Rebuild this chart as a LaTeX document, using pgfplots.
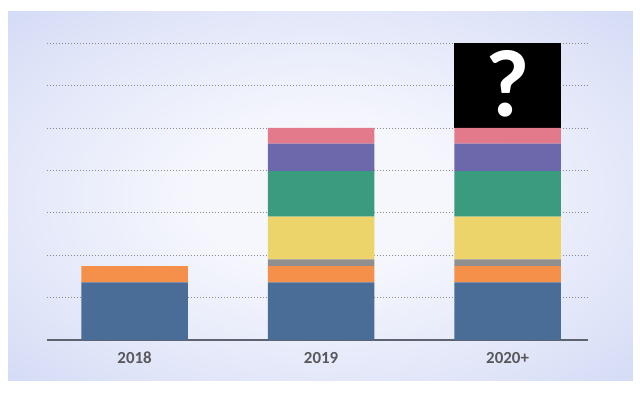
\documentclass[border=0pt]{standalone}
\usepackage{fontspec}
\setmainfont{Carlito}
\usepackage{pgfplots}
\pgfplotsset{compat=1.18}
\definecolor{cblue}{HTML}{4A6D98}
\definecolor{corange}{HTML}{F4904A}
\definecolor{cgray}{HTML}{918F8E}
\definecolor{cyellow}{HTML}{EDD46A}
\definecolor{cgreen}{HTML}{3B9B7F}
\definecolor{cpurple}{HTML}{6D67AB}
\definecolor{cpink}{HTML}{E27A8C}
\definecolor{bgin}{HTML}{F6F7FD}
\definecolor{bgmid}{HTML}{DFE4F8}
\definecolor{bgedge}{HTML}{BFCAF0}
\definecolor{bgout}{HTML}{AEBBEA}
\definecolor{labelgray}{HTML}{58585C}
\definecolor{basecol}{HTML}{5E6370}
\pgfdeclareradialshading{bgshade}{\pgfpoint{0bp}{0bp}}{color(0bp)=(bgin); color(10bp)=(bgin); color(28bp)=(bgmid); color(50bp)=(bgedge); color(71bp)=(bgout)}
\pgfdeclarelayer{bglayer}
\pgfsetlayers{bglayer,main}
\begin{document}
\begin{tikzpicture}
\begin{axis}[
  x=186.5bp, y=42.4bp,
  xmin=-0.47, xmax=2.43, ymin=0, ymax=7,
  clip=false,
  axis line style={draw=none},
  tick style={draw=none},
  major tick length=0pt,
  ybar stacked,
  bar width=0.57,
  ytick={1,2,3,4,5,6,7},
  yticklabels={},
  ymajorgrids=true,
  major grid style={draw=black!45, line width=0.9bp, dash pattern=on 1bp off 2bp},
  xtick={0,1,2},
  xticklabels={2018,2019,2020+},
  xticklabel style={anchor=center, yshift=-18bp, font=\fontsize{17}{17}\selectfont\bfseries, text=labelgray},
]
\coordinate (pA) at (axis cs:-0.722,-1.274);
\coordinate (pB) at (axis cs:2.710,8.019);
\coordinate (bA) at (axis cs:-0.679,-0.967);
\coordinate (bB) at (axis cs:2.672,7.736);
\coordinate (qm) at (axis cs:2,6.05);
\addplot[fill=cblue, draw=none] coordinates {(0,1.36) (1,1.36) (2,1.36)};
\addplot[fill=corange, draw=none] coordinates {(0,0.38) (1,0.38) (2,0.38)};
\addplot[fill=cgray, draw=none] coordinates {(0,0) (1,0.16) (2,0.16)};
\addplot[fill=cyellow, draw=none] coordinates {(0,0) (1,1.01) (2,1.01)};
\addplot[fill=cgreen, draw=none] coordinates {(0,0) (1,1.07) (2,1.07)};
\addplot[fill=cpurple, draw=none] coordinates {(0,0) (1,0.65) (2,0.65)};
\addplot[fill=cpink, draw=none] coordinates {(0,0) (1,0.37) (2,0.37)};
\addplot[fill=black, draw=none] coordinates {(0,0) (1,0) (2,2.0)};
\draw[basecol, line width=2bp] (axis cs:-0.47,0) -- (axis cs:2.43,0);
\end{axis}
\node[font=\fontsize{96}{96}\selectfont\bfseries, text=white] at (qm) {?};
\begin{pgfonlayer}{bglayer}
\fill[white] (pA) rectangle (pB);
\shade[shading=bgshade] (bA) rectangle (bB);
\end{pgfonlayer}
\end{tikzpicture}
\end{document}
